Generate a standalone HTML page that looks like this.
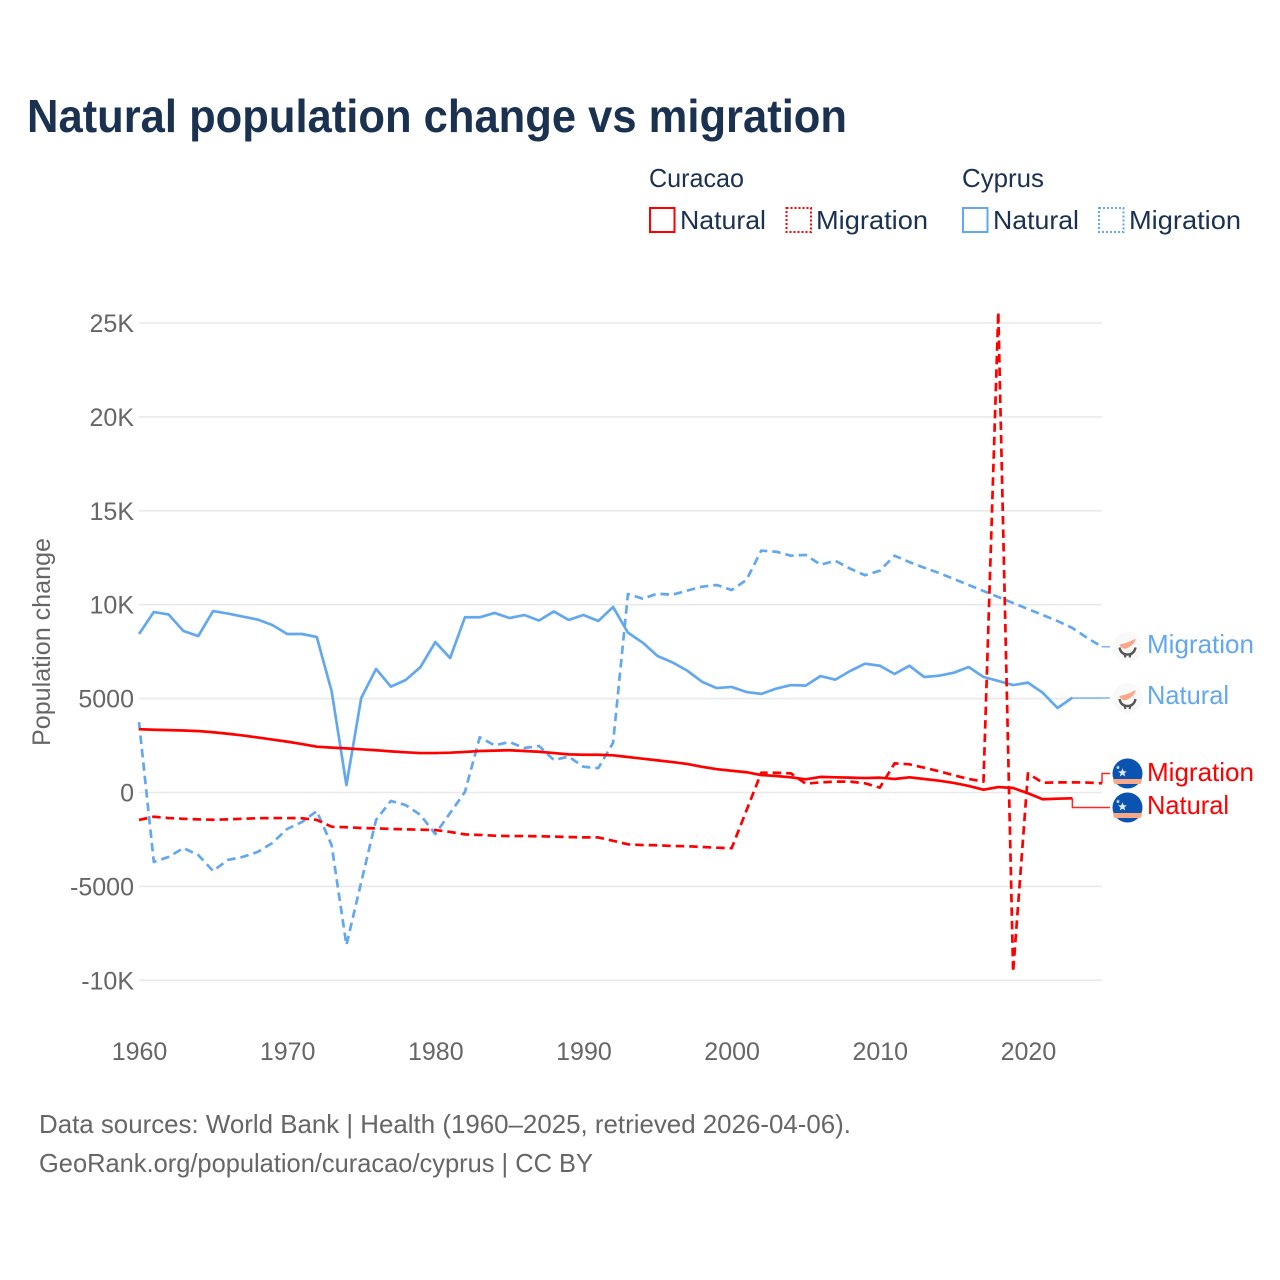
<!DOCTYPE html>
<html lang="en">
<head>
<meta charset="utf-8">
<title>Natural population change vs migration</title>
<style>
html,body{margin:0;padding:0;background:#fff;width:1280px;height:1280px;overflow:hidden}
svg{display:block;font-family:"Liberation Sans",sans-serif}
</style>
</head>
<body>
<svg id="chart" xmlns="http://www.w3.org/2000/svg" width="1280" height="1280" viewBox="0 0 1280 1280">
  <rect width="1280" height="1280" fill="#ffffff"/>
  <text x="27" y="132" font-size="46" font-weight="700" fill="#1a3150" textLength="820" lengthAdjust="spacingAndGlyphs">Natural population change vs migration</text>

  <g font-size="26" fill="#1a3150">
    <text x="649" y="187" textLength="95" lengthAdjust="spacingAndGlyphs">Curacao</text>
    <text x="962" y="187" textLength="82" lengthAdjust="spacingAndGlyphs">Cyprus</text>
    <g>
      <rect x="650" y="208" width="24.5" height="24" fill="none" stroke="#ff0000" stroke-width="2"/>
      <text x="680" y="229" textLength="86" lengthAdjust="spacingAndGlyphs">Natural</text>
    </g>
    <g>
      <rect x="786.5" y="208" width="24.5" height="24" fill="none" stroke="#ff0000" stroke-width="2" stroke-dasharray="2 2"/>
      <text x="816" y="229" textLength="112" lengthAdjust="spacingAndGlyphs">Migration</text>
    </g>
    <g>
      <rect x="963" y="208" width="24.5" height="24" fill="none" stroke="#63a8ee" stroke-width="2"/>
      <text x="993" y="229" textLength="86" lengthAdjust="spacingAndGlyphs">Natural</text>
    </g>
    <g>
      <rect x="1099" y="208" width="24.5" height="24" fill="none" stroke="#63a8ee" stroke-width="2" stroke-dasharray="2 2"/>
      <text x="1129" y="229" textLength="112" lengthAdjust="spacingAndGlyphs">Migration</text>
    </g>
  </g>

  <g id="grid"></g>
  <g id="y-axis"></g>
  <g id="x-axis"></g>
  <text transform="translate(50,746) rotate(-90)" font-size="25" fill="#666666" textLength="208" lengthAdjust="spacingAndGlyphs">Population change</text>
  <g id="series"></g>

  <g font-size="26">
    <text x="1147" y="653" fill="#63a8ee" textLength="107" lengthAdjust="spacingAndGlyphs">Migration</text>
    <text x="1147" y="704" fill="#63a8ee" textLength="82" lengthAdjust="spacingAndGlyphs">Natural</text>
    <text x="1147" y="781" fill="#ff0000" textLength="107" lengthAdjust="spacingAndGlyphs">Migration</text>
    <text x="1147" y="814" fill="#ff0000" textLength="82" lengthAdjust="spacingAndGlyphs">Natural</text>
  </g>

  <defs>
    <g id="cy-flag">
      <circle r="15" fill="#f9f9f9"/>
      <path d="M-8 -2 C-3 -3 3 -5 8 -8 C8 -4 4 0 -1 2 C-4 3 -7 1 -8 -2 Z" fill="#f9a98a"/>
      <path d="M-8 1 C-7 6 -4 8 0 8 C4 8 7 6 8 1" fill="none" stroke="#555555" stroke-width="2.4"/>
      <path d="M-3 8 L-2 11 M3 8 L2 11" stroke="#555555" stroke-width="2"/>
    </g>
    <g id="cw-flag">
      <circle r="15" fill="#0a53b0"/>
      <path d="M-14.6 5.5 H14.6 A15 15 0 0 1 13 10.5 H-13 A15 15 0 0 1 -14.6 5.5 Z" fill="#f9a985"/>
      <path d="M-5 -5.2 l1.2 2.9 3.1 .2 -2.4 2 .8 3 -2.7 -1.6 -2.7 1.6 .8 -3 -2.4 -2 3.1 -.2 Z" fill="#dfe9f7"/>
      <path d="M-9.5 -8.2 l.6 1.4 1.5 .1 -1.2 1 .4 1.5 -1.3 -.8 -1.3 .8 .4 -1.5 -1.2 -1 1.5 -.1 Z" fill="#dfe9f7"/>
    </g>
  </defs>
  <g transform="translate(1127.5,646.5)"><use href="#cy-flag"/></g>
  <g transform="translate(1127.5,698)"><use href="#cy-flag"/></g>
  <g transform="translate(1127.5,773.5)"><use href="#cw-flag"/></g>
  <g transform="translate(1127.5,807.5)"><use href="#cw-flag"/></g>

  <g font-size="26" fill="#666666">
    <text x="39" y="1133" textLength="812" lengthAdjust="spacingAndGlyphs">Data sources: World Bank | Health (1960–2025, retrieved 2026-04-06).</text>
    <text x="39" y="1172" textLength="554" lengthAdjust="spacingAndGlyphs">GeoRank.org/population/curacao/cyprus | CC BY</text>
  </g>
</svg>
<script>
const startYear = 1960;
const yTickValues = [-10000, -5000, 0, 5000, 10000, 15000, 20000, 25000];
const yTickLabels = ["-10K", "-5000", "0", "5000", "10K", "15K", "20K", "25K"];
const xTickValues = [1960, 1970, 1980, 1990, 2000, 2010, 2020];
const xTickLabels = ["1960", "1970", "1980", "1990", "2000", "2010", "2020"];

const cyprusNatural = [8440,9610,9480,8600,8330,9660,9530,9370,9210,8920,8440,8440,8280,5400,400,5030,6580,5640,5990,6680,8010,7160,9330,9330,9560,9290,9450,9160,9640,9190,9450,9130,9880,8510,7980,7270,6930,6490,5900,5560,5620,5350,5250,5530,5720,5690,6200,6010,6470,6860,6750,6310,6750,6150,6220,6380,6680,6150,5940,5720,5850,5310,4500,5050];
const cyprusMigration = [3750,-3700,-3430,-2960,-3330,-4180,-3590,-3430,-3170,-2690,-1940,-1570,-990,-2800,-8120,-4770,-1460,-450,-670,-1200,-2210,-1090,30,2940,2510,2690,2370,2480,1730,1910,1370,1300,2650,10570,10320,10590,10530,10750,10960,11050,10780,11320,12880,12820,12610,12650,12130,12340,11920,11570,11810,12610,12270,11970,11690,11370,11050,10730,10410,10090,9770,9450,9130,8760,8230,7760];
const curacaoNatural = [3370,3340,3320,3300,3270,3210,3130,3040,2930,2820,2710,2580,2440,2390,2350,2300,2250,2190,2140,2100,2100,2120,2160,2210,2230,2250,2210,2170,2100,2030,2010,2010,1980,1890,1800,1710,1620,1520,1370,1240,1160,1080,930,880,810,700,830,810,790,770,790,720,810,720,630,510,350,150,290,240,-40,-360,-330,-310];
const curacaoMigration = [-1460,-1290,-1360,-1400,-1430,-1450,-1430,-1400,-1370,-1360,-1360,-1370,-1460,-1820,-1850,-1890,-1910,-1940,-1960,-1980,-2000,-2100,-2230,-2260,-2300,-2320,-2320,-2330,-2350,-2370,-2390,-2390,-2570,-2760,-2800,-2810,-2850,-2860,-2900,-2940,-2970,-960,1050,1050,1020,470,540,580,580,490,260,1550,1500,1320,1130,920,720,580,25590,-9560,1020,520,540,540,530,490];

const NS = "http://www.w3.org/2000/svg";
const PLOT_LEFT = 139, PLOT_RIGHT = 1102, Y_ZERO = 792.5, PX_PER_UNIT = 0.01878;
const X_SCALE = (PLOT_RIGHT - PLOT_LEFT) / 65;
const CONNECT_END = 1110;
const BLUE = "#63a8ee", RED = "#ff0000";

function xPos(year) { return PLOT_LEFT + (year - startYear) * X_SCALE; }
function yPos(value) { return Y_ZERO - value * PX_PER_UNIT; }
function make(tag, attrs, parent) {
  const el = document.createElementNS(NS, tag);
  for (const key in attrs) el.setAttribute(key, attrs[key]);
  parent.appendChild(el);
  return el;
}
function linePath(values) {
  return values.map(function (v, i) {
    return (i ? "L" : "M") + xPos(startYear + i).toFixed(2) + " " + yPos(v).toFixed(2);
  }).join(" ");
}

const gridGroup = document.getElementById("grid");
const yAxisGroup = document.getElementById("y-axis");
const xAxisGroup = document.getElementById("x-axis");
const seriesGroup = document.getElementById("series");

yTickValues.forEach(function (value, i) {
  const line = make("line", { x1: PLOT_LEFT, x2: PLOT_RIGHT, y1: yPos(value), y2: yPos(value), stroke: "#e9e9e9", "stroke-width": 1.6 }, gridGroup);
  
  
  const label = make("text", { x: 134, y: yPos(value) + 9, "text-anchor": "end", "font-size": 25, fill: "#666666" }, yAxisGroup);
  
  
  label.textContent = yTickLabels[i];
});

xTickValues.forEach(function (year, i) {
  const label = make("text", { x: xPos(year) + 0.5, y: 1060, "text-anchor": "middle", "font-size": 25, fill: "#666666" }, xAxisGroup);
  
  
  label.textContent = xTickLabels[i];
});

function drawSeries(values, color, dashed, name, labelY) {
  const lastIndex = values.length - 1;
  const lastX = xPos(startYear + lastIndex);
  const lastY = yPos(values[lastIndex]);
  const link = make("path", {
    d: "M" + lastX + " " + lastY + " L" + lastX + " " + labelY + " L" + CONNECT_END + " " + labelY,
    fill: "none", stroke: color, "stroke-width": 1.5, "stroke-opacity": 0.85
  }, seriesGroup);
  
  
  const path = make("path", {
    d: linePath(values), fill: "none", stroke: color, "stroke-width": 2.7, "stroke-linejoin": "round"
  }, seriesGroup);
  if (dashed) path.setAttribute("stroke-dasharray", "8.5 5");
  
  
}

drawSeries(cyprusNatural, BLUE, false, "line-cyprus-natural", 698);
drawSeries(cyprusMigration, BLUE, true, "line-cyprus-migration", 646.7);
drawSeries(curacaoNatural, RED, false, "line-curacao-natural", 807.5);
drawSeries(curacaoMigration, RED, true, "line-curacao-migration", 773.5);
</script>
</body>
</html>
